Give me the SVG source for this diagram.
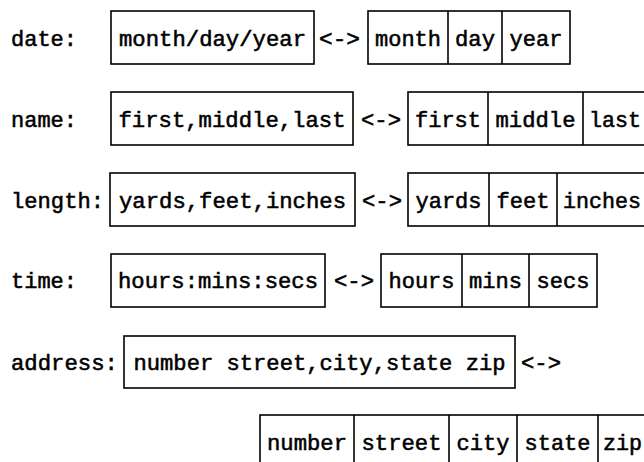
<svg xmlns="http://www.w3.org/2000/svg" width="644" height="462" viewBox="0 0 644 462">
<style>
  .bg{fill:#ffffff}
  .box{fill:none;stroke:#000;stroke-width:1.6}
  .div{stroke:#000;stroke-width:1.6}
  text{font-family:"Liberation Mono","Courier New",monospace;font-size:22.3px;font-weight:normal;fill:#000;stroke:#000;stroke-width:0.55}
  .c{text-anchor:middle}
</style>
<rect class="bg" x="0" y="0" width="644" height="462"/>

<!-- Row 1: date -->
<g id="label-date"><text x="11" y="46" textLength="66" lengthAdjust="spacingAndGlyphs">date:</text></g>
<g id="date-string">
  <rect class="box" x="111" y="11" width="203" height="53"/>
  <text class="c" x="212.5" y="46" textLength="187" lengthAdjust="spacingAndGlyphs">month/day/year</text>
</g>
<g id="date-fields">
  <rect class="box" x="368" y="11" width="202" height="53"/>
  <line class="div" x1="448" y1="11" x2="448" y2="64"/>
  <line class="div" x1="502" y1="11" x2="502" y2="64"/>
  <text class="c" x="408" y="46" textLength="66" lengthAdjust="spacingAndGlyphs">month</text>
  <text class="c" x="475" y="46" textLength="40" lengthAdjust="spacingAndGlyphs">day</text>
  <text class="c" x="536" y="46" textLength="53" lengthAdjust="spacingAndGlyphs">year</text>
</g>

<!-- Row 2: name -->
<g id="label-name"><text x="11" y="127" textLength="66" lengthAdjust="spacingAndGlyphs">name:</text></g>
<g id="name-string">
  <rect class="box" x="111" y="92" width="242" height="53"/>
  <text class="c" x="232" y="127" textLength="227" lengthAdjust="spacingAndGlyphs">first,middle,last</text>
</g>
<g id="name-fields">
  <rect class="box" x="408" y="92" width="244" height="53"/>
  <line class="div" x1="488" y1="92" x2="488" y2="145"/>
  <line class="div" x1="583" y1="92" x2="583" y2="145"/>
  <text class="c" x="448" y="127" textLength="66" lengthAdjust="spacingAndGlyphs">first</text>
  <text class="c" x="535.5" y="127" textLength="80" lengthAdjust="spacingAndGlyphs">middle</text>
  <text x="589" y="127" textLength="52" lengthAdjust="spacingAndGlyphs">last</text>
</g>

<!-- Row 3: length -->
<g id="label-length"><text x="11" y="208" textLength="93" lengthAdjust="spacingAndGlyphs">length:</text></g>
<g id="length-string">
  <rect class="box" x="110" y="173" width="245" height="53"/>
  <text class="c" x="232.5" y="208" textLength="227" lengthAdjust="spacingAndGlyphs">yards,feet,inches</text>
</g>
<g id="length-fields">
  <rect class="box" x="408" y="173" width="244" height="53"/>
  <line class="div" x1="489" y1="173" x2="489" y2="226"/>
  <line class="div" x1="557" y1="173" x2="557" y2="226"/>
  <text class="c" x="448.5" y="208" textLength="66" lengthAdjust="spacingAndGlyphs">yards</text>
  <text class="c" x="523" y="208" textLength="53" lengthAdjust="spacingAndGlyphs">feet</text>
  <text x="563" y="208" textLength="78" lengthAdjust="spacingAndGlyphs">inches</text>
</g>

<!-- Row 4: time -->
<g id="label-time"><text x="11" y="288" textLength="66" lengthAdjust="spacingAndGlyphs">time:</text></g>
<g id="time-string">
  <rect class="box" x="111" y="254" width="214" height="53"/>
  <text class="c" x="218" y="288" textLength="200" lengthAdjust="spacingAndGlyphs">hours:mins:secs</text>
</g>
<g id="time-fields">
  <rect class="box" x="381" y="254" width="216" height="53"/>
  <line class="div" x1="462" y1="254" x2="462" y2="307"/>
  <line class="div" x1="529" y1="254" x2="529" y2="307"/>
  <text class="c" x="421.5" y="288" textLength="66" lengthAdjust="spacingAndGlyphs">hours</text>
  <text class="c" x="495.5" y="288" textLength="53" lengthAdjust="spacingAndGlyphs">mins</text>
  <text class="c" x="563" y="288" textLength="53" lengthAdjust="spacingAndGlyphs">secs</text>
</g>

<!-- Row 5: address -->
<g id="label-address"><text x="11" y="370" textLength="107" lengthAdjust="spacingAndGlyphs">address:</text></g>
<g id="address-string">
  <rect class="box" x="124" y="336" width="391" height="52"/>
  <text class="c" x="319.5" y="370" textLength="372" lengthAdjust="spacingAndGlyphs">number street,city,state zip</text>
</g>

<!-- Row 6: address fields -->
<g id="address-fields">
  <rect class="box" x="260" y="415" width="392" height="60"/>
  <line class="div" x1="354" y1="415" x2="354" y2="462"/>
  <line class="div" x1="449" y1="415" x2="449" y2="462"/>
  <line class="div" x1="517" y1="415" x2="517" y2="462"/>
  <line class="div" x1="598" y1="415" x2="598" y2="462"/>
  <text class="c" x="307" y="450" textLength="80" lengthAdjust="spacingAndGlyphs">number</text>
  <text class="c" x="401.5" y="450" textLength="80" lengthAdjust="spacingAndGlyphs">street</text>
  <text class="c" x="483" y="450" textLength="53" lengthAdjust="spacingAndGlyphs">city</text>
  <text class="c" x="557.5" y="450" textLength="66" lengthAdjust="spacingAndGlyphs">state</text>
  <text x="603" y="450" textLength="39" lengthAdjust="spacingAndGlyphs">zip</text>
</g>

<!-- Connectors (the <-> conversion marks) -->
<g id="connectors">
  <text x="319" y="46" textLength="41" lengthAdjust="spacingAndGlyphs">&lt;-&gt;</text>
  <text x="361" y="127" textLength="40" lengthAdjust="spacingAndGlyphs">&lt;-&gt;</text>
  <text x="362" y="208" textLength="40" lengthAdjust="spacingAndGlyphs">&lt;-&gt;</text>
  <text x="334" y="288" textLength="40" lengthAdjust="spacingAndGlyphs">&lt;-&gt;</text>
  <text x="521" y="370" textLength="40" lengthAdjust="spacingAndGlyphs">&lt;-&gt;</text>
</g>
</svg>
